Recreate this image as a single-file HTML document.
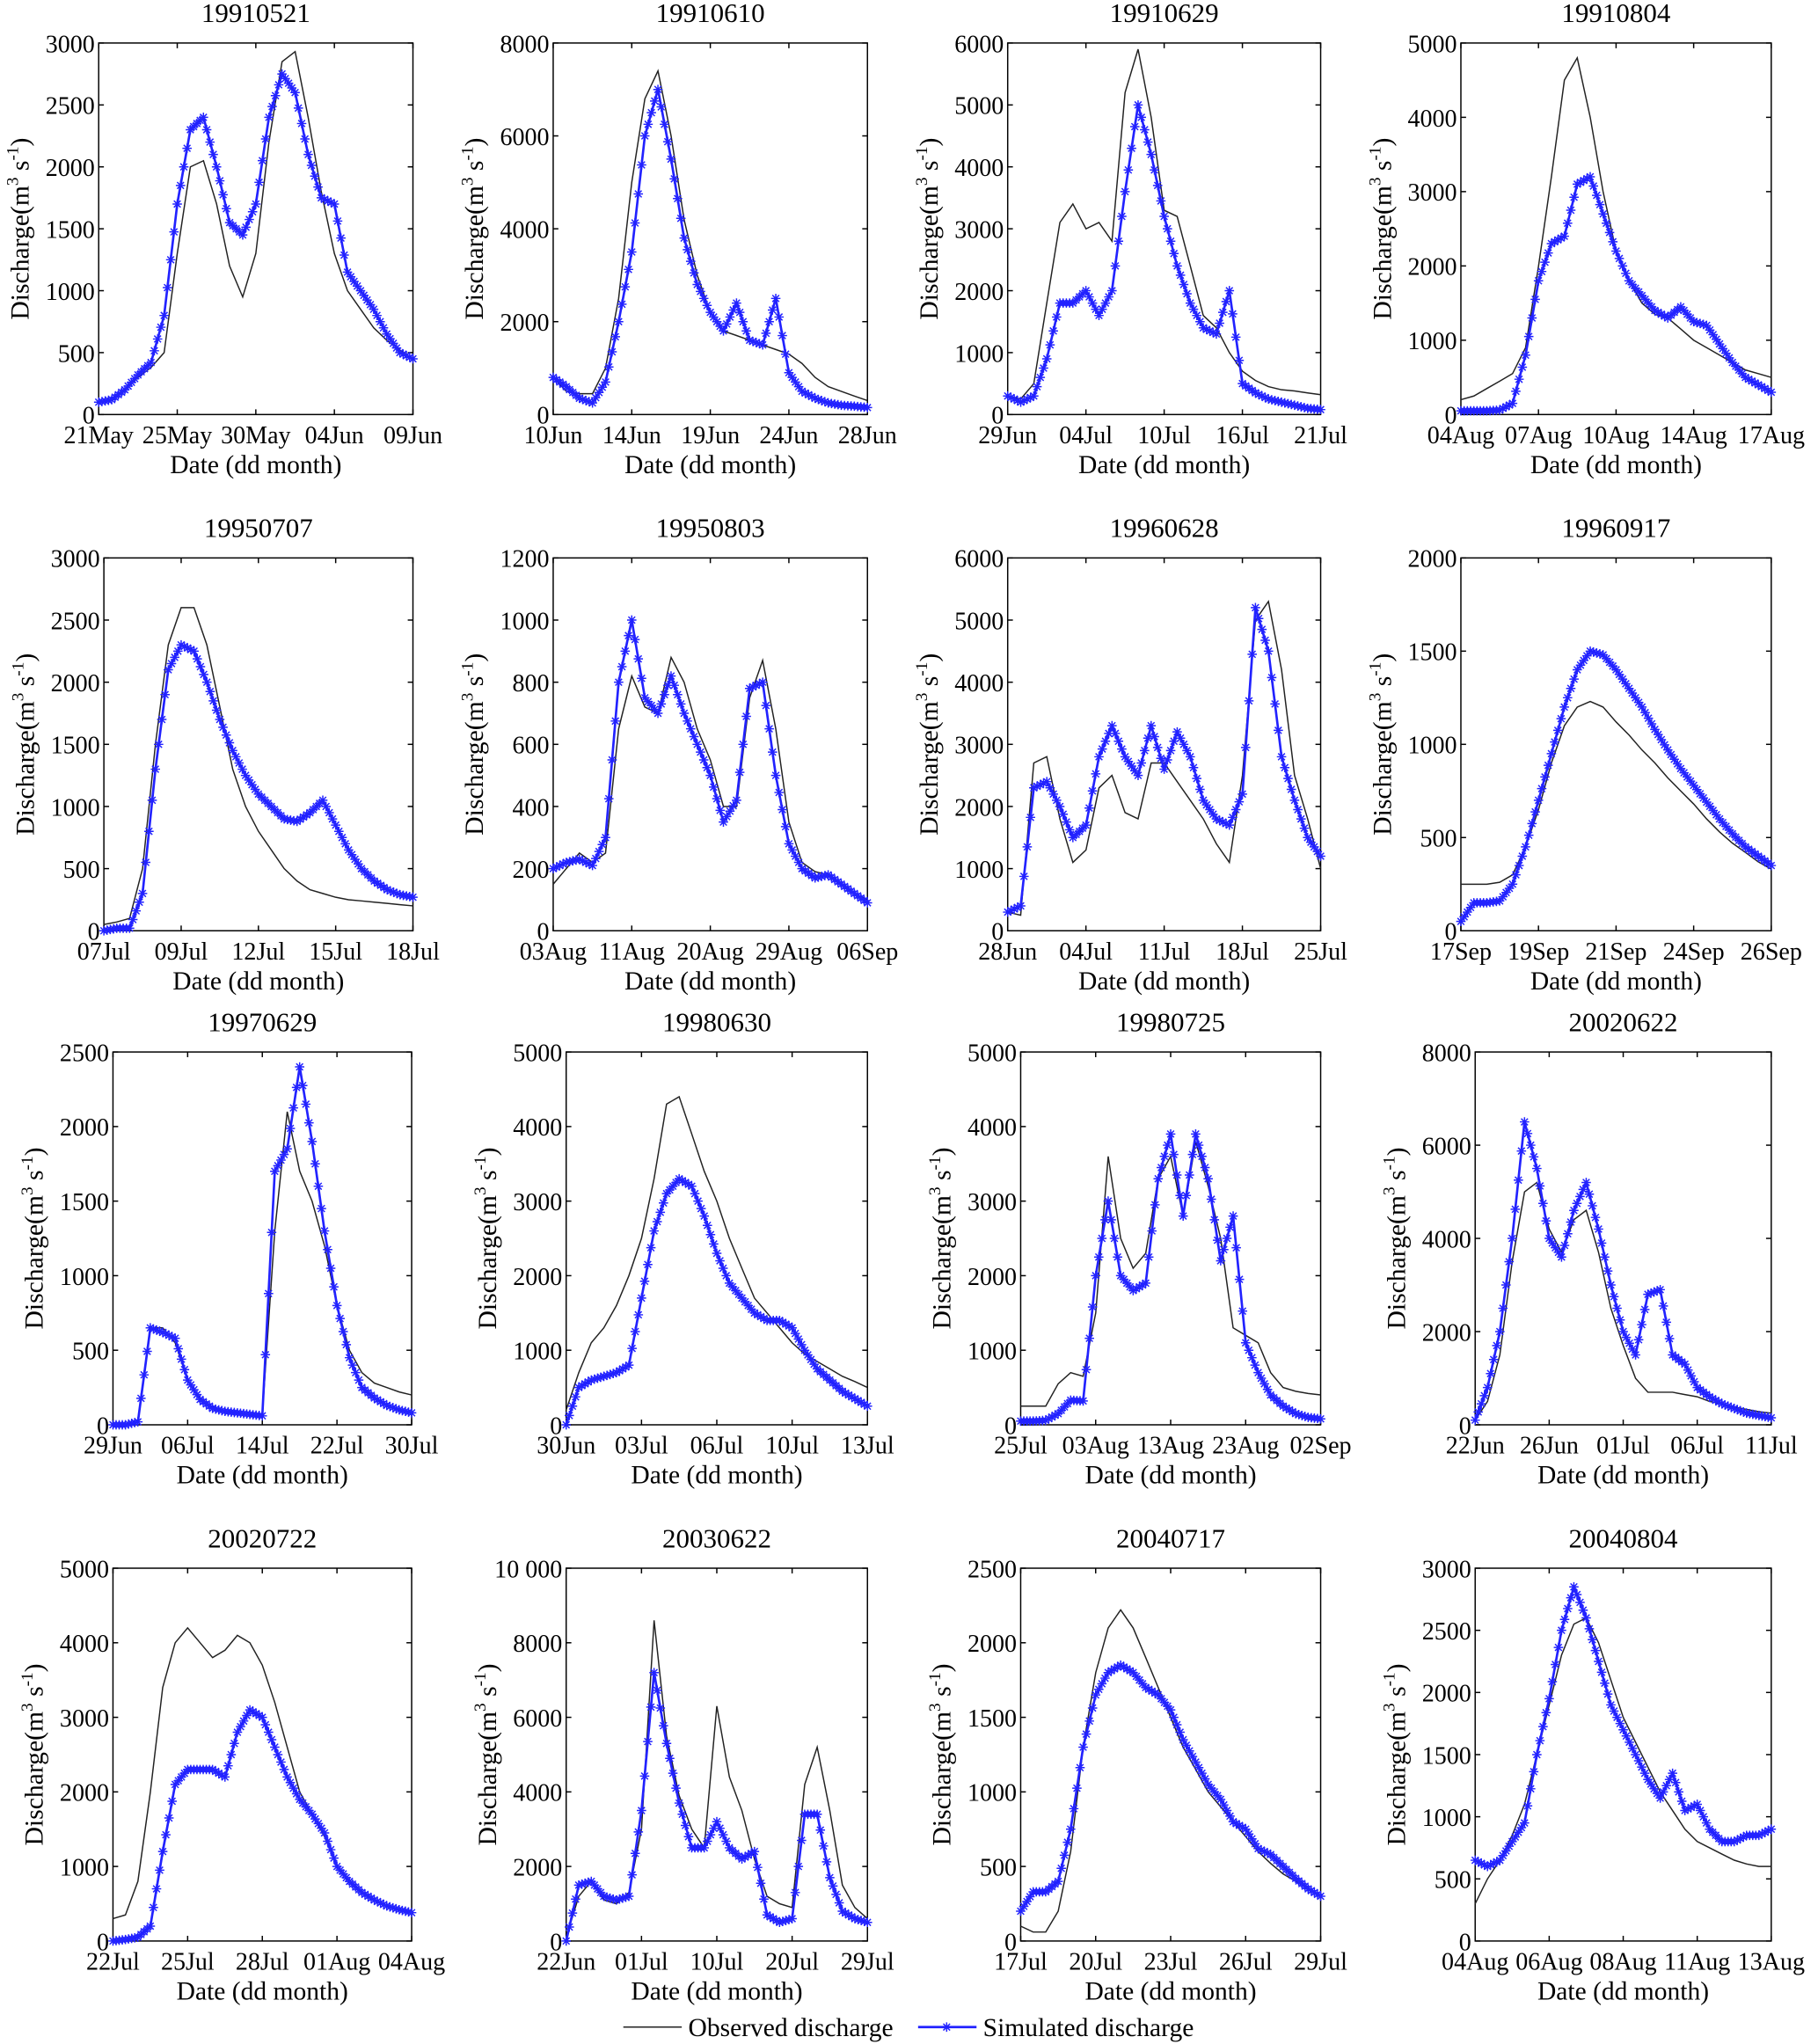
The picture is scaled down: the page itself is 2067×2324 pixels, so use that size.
<!DOCTYPE html>
<html><head><meta charset="utf-8"><style>
html,body{margin:0;padding:0;background:#fff}
svg{display:block}
text{font-family:"Liberation Serif",serif;fill:#000}
</style></head><body>
<svg id="chart" width="2067" height="2324" viewBox="0 0 1400 1568" preserveAspectRatio="none" xmlns="http://www.w3.org/2000/svg"></svg>
<script>
const titles=["19910521","19910610","19910629","19910804","19950707","19950803","19960628","19960917","19970629","19980630","19980725","20020622","20020722","20030622","20040717","20040804"];
const yMaxes=[3000,8000,6000,5000,3000,1200,6000,2000,2500,5000,5000,8000,5000,10000,2500,3000];
const ySteps=[500,2000,1000,1000,500,200,1000,500,500,1000,1000,2000,1000,2000,500,500];
const xLabels=[
["21May","25May","30May","04Jun","09Jun"],["10Jun","14Jun","19Jun","24Jun","28Jun"],["29Jun","04Jul","10Jul","16Jul","21Jul"],["04Aug","07Aug","10Aug","14Aug","17Aug"],
["07Jul","09Jul","12Jul","15Jul","18Jul"],["03Aug","11Aug","20Aug","29Aug","06Sep"],["28Jun","04Jul","11Jul","18Jul","25Jul"],["17Sep","19Sep","21Sep","24Sep","26Sep"],
["29Jun","06Jul","14Jul","22Jul","30Jul"],["30Jun","03Jul","06Jul","10Jul","13Jul"],["25Jul","03Aug","13Aug","23Aug","02Sep"],["22Jun","26Jun","01Jul","06Jul","11Jul"],
["22Jul","25Jul","28Jul","01Aug","04Aug"],["22Jun","01Jul","10Jul","20Jul","29Jul"],["17Jul","20Jul","23Jul","26Jul","29Jul"],["04Aug","06Aug","08Aug","11Aug","13Aug"]];
const obs1=[100,120,200,300,380,500,1300,2000,2050,1700,1200,950,1300,2200,2850,2930,2400,1800,1300,1000,850,700,600,520,450];
const sim1=[100,120,200,320,420,800,1700,2300,2400,2000,1550,1450,1700,2400,2750,2600,2100,1750,1700,1150,1000,850,650,500,450];
const obs2=[800,500,450,450,1000,2500,5000,6800,7400,6000,4200,3000,2200,1800,1700,1600,1500,1400,1300,1100,800,600,500,400,300];
const sim2=[800,600,350,250,700,2000,3500,6000,7000,5500,3800,2800,2200,1800,2400,1600,1500,2500,900,500,350,250,200,180,150];
const obs3=[300,250,500,1800,3100,3400,3000,3100,2800,5200,5900,4800,3300,3200,2400,1600,1400,1000,700,550,450,400,380,350,320];
const sim3=[300,200,300,900,1800,1800,2000,1600,2000,3600,5000,4200,3200,2400,1800,1400,1300,2000,500,350,250,200,150,100,80];
const obs4=[200,250,350,450,550,900,2000,3200,4500,4800,4000,3000,2200,1800,1500,1350,1300,1150,1000,900,800,700,600,550,500];
const sim4=[50,50,50,60,150,800,1800,2300,2400,3100,3200,2700,2200,1800,1600,1400,1300,1450,1250,1200,950,700,500,400,300];
const obs5=[50,70,100,500,1500,2300,2600,2600,2300,1800,1300,1000,800,650,500,400,330,300,270,250,240,230,220,210,200];
const sim5=[0,20,20,300,1300,2100,2300,2250,2000,1700,1450,1250,1100,1000,900,880,950,1050,850,650,500,400,330,290,270];
const obs6=[150,200,250,220,250,650,820,720,700,880,800,650,550,400,400,750,870,650,350,220,190,180,150,120,100];
const sim6=[200,220,230,210,300,800,1000,750,700,820,700,600,500,350,420,780,800,500,280,200,170,180,150,120,90];
const obs7=[300,250,2700,2800,1800,1100,1300,2300,2500,1900,1800,2700,2700,2400,2100,1800,1400,1100,2500,5000,5300,4200,2500,1800,1000];
const sim7=[300,400,2300,2400,2000,1500,1700,2800,3300,2800,2500,3300,2600,3200,2800,2100,1800,1700,2200,5200,4500,2800,2100,1500,1200];
const obs8=[250,250,250,260,300,450,650,900,1100,1200,1230,1200,1120,1050,970,900,820,750,680,600,530,470,420,370,330];
const sim8=[50,150,150,160,250,450,700,950,1200,1400,1500,1480,1400,1300,1200,1080,970,870,780,690,600,520,450,400,350];
const obs9=[0,0,20,650,650,550,300,180,120,90,80,70,70,1300,2100,1700,1500,1200,800,500,350,280,250,220,200];
const sim9=[0,0,20,650,620,580,300,170,110,90,80,70,60,1700,1850,2400,1900,1300,800,450,250,180,130,100,80];
const obs10=[200,700,1100,1300,1600,2000,2500,3300,4300,4400,3900,3400,3000,2500,2100,1700,1500,1300,1100,950,850,750,650,580,500];
const sim10=[0,500,600,650,700,800,1700,2600,3100,3300,3200,2800,2300,1900,1700,1500,1400,1400,1300,1000,750,600,450,350,250];
const obs11=[250,250,250,550,700,650,1500,3600,2500,2100,2300,3300,3600,2800,3800,3200,2500,1300,1200,1100,700,500,450,420,400];
const sim11=[50,50,60,150,330,320,2000,3000,2000,1800,1900,3300,3900,2800,3900,3300,2200,2800,1100,700,400,250,150,100,80];
const obs12=[100,500,1500,3500,5000,5200,4200,3700,4400,4600,3700,2500,1700,1000,700,700,700,650,600,500,450,380,330,280,250];
const sim12=[100,800,2000,4000,6500,5500,4000,3600,4600,5200,4200,3000,2000,1500,2800,2900,1500,1300,800,600,450,350,250,200,150];
const obs13=[300,350,800,2000,3400,4000,4200,4000,3800,3900,4100,4000,3700,3200,2600,2000,1700,1400,1000,800,650,550,480,420,400];
const sim13=[0,20,50,200,1200,2100,2300,2300,2300,2200,2800,3100,3000,2600,2200,1900,1700,1450,1000,800,650,550,470,420,380];
const obs14=[100,1200,1600,1100,1000,1300,3000,8600,5500,3900,3000,2500,6300,4400,3500,2200,1200,1000,900,4200,5200,3500,1500,900,600];
const sim14=[0,1500,1600,1200,1100,1200,3500,7200,5300,3700,2500,2500,3200,2500,2200,2400,700,500,600,3400,3400,1700,800,600,500];
const obs15=[100,60,60,200,600,1300,1800,2100,2220,2100,1900,1700,1500,1300,1150,1000,900,800,700,600,520,450,400,350,300];
const sim15=[200,330,330,400,750,1300,1650,1800,1850,1800,1700,1650,1550,1350,1200,1050,950,800,750,620,580,500,420,350,300];
const obs16=[300,500,650,850,1100,1500,1900,2300,2550,2600,2400,2100,1800,1600,1400,1200,1050,900,800,750,700,650,620,600,600];
const sim16=[650,600,650,800,950,1500,1950,2500,2850,2600,2250,1900,1700,1500,1300,1150,1350,1050,1100,900,800,800,850,850,900];
const obsAll=[obs1,obs2,obs3,obs4,obs5,obs6,obs7,obs8,obs9,obs10,obs11,obs12,obs13,obs14,obs15,obs16];
const simAll=[sim1,sim2,sim3,sim4,sim5,sim6,sim7,sim8,sim9,sim10,sim11,sim12,sim13,sim14,sim15,sim16];

const NS="http://www.w3.org/2000/svg";
const svg=document.getElementById('chart');
const rowsY=[[33,318],[428,714],[807,1093],[1203,1489]];
const colsX=[[[76,318],[426,668],[776,1017],[1125,1364]],[[80,318],[426,668],[776,1017],[1125,1364]],[[87,317],[436,668],[786,1017],[1136,1364]],[[87,317],[436,668],[786,1017],[1136,1364]]];
const BLUE="#2222ff";
function mk(tag,attrs,parent){const e=document.createElementNS(NS,tag);for(const k in attrs)e.setAttribute(k,attrs[k]);(parent||svg).appendChild(e);return e;}
function star(g,x,y){const r=3.6,d=2.6;
  mk('path',{d:`M${x-r},${y}H${x+r}M${x},${y-r}V${y+r}M${x-d},${y-d}L${x+d},${y+d}M${x-d},${y+d}L${x+d},${y-d}`,stroke:BLUE,'stroke-width':1,fill:'none'},g);}

for(let p=0;p<16;p++){
  const r=Math.floor(p/4),c=p%4;
  const [x0,x1]=colsX[r][c],[y0,y1]=rowsY[r];
  const g=mk('g',{});
  
  
  const ymax=yMaxes[p],step=ySteps[p];
  const ys=v=>y1-(v/ymax)*(y1-y0);
  const n=obsAll[p].length;
  const xs=i=>x0+i*(x1-x0)/(n-1);
  const box=mk('rect',{x:x0,y:y0,width:x1-x0,height:y1-y0,fill:'none',stroke:'#000','stroke-width':1},g);
  
  
  const t=mk('text',{x:(x0+x1)/2,y:y0-16,'text-anchor':'middle','font-size':21},g);
  t.textContent=titles[p];
  
  
  for(let v=0;v<=ymax+0.1;v+=step){
    const y=ys(v);
    mk('line',{x1:x0,x2:x0+4,y1:y,y2:y,stroke:'#000'},g);
    mk('line',{x1:x1,x2:x1-4,y1:y,y2:y,stroke:'#000'},g);
    const tl=mk('text',{x:x0-3,y:y+7,'text-anchor':'end','font-size':19},g);
    tl.textContent=v>=10000?'10 000':String(v);
    
    
  }
  const labs=xLabels[p];
  for(let i=0;i<labs.length;i++){
    const x=x0+i*(x1-x0)/(labs.length-1);
    mk('line',{x1:x,x2:x,y1:y1,y2:y1-4,stroke:'#000'},g);
    mk('line',{x1:x,x2:x,y1:y0,y2:y0+4,stroke:'#000'},g);
    const xl=mk('text',{x:x,y:y1+22,'text-anchor':'middle','font-size':19},g);
    xl.textContent=labs[i];
    
    
  }
  const xt=mk('text',{x:(x0+x1)/2,y:y1+45,'text-anchor':'middle','font-size':20},g);
  xt.textContent='Date (dd month)';
  
  
  const yl=mk('text',{x:0,y:0,'text-anchor':'middle','font-size':20,transform:`translate(${x0-54},${(y0+y1)/2}) rotate(-90)`},g);
  yl.innerHTML='Discharge(m<tspan font-size="13" dy="-8">3</tspan><tspan dy="8"> s</tspan><tspan font-size="13" dy="-8">-1</tspan><tspan dy="8">)</tspan>';
  
  
  const op=obsAll[p].map((v,i)=>`${xs(i).toFixed(1)},${ys(v).toFixed(1)}`).join(' ');
  const ol=mk('polyline',{points:op,fill:'none',stroke:'#222','stroke-width':1},g);
  
  
  const sp=simAll[p].map((v,i)=>`${xs(i).toFixed(1)},${ys(v).toFixed(1)}`).join(' ');
  const sl=mk('polyline',{points:sp,fill:'none',stroke:BLUE,'stroke-width':1.8},g);
  
  
  const mg=mk('g',{},g);
  
  
  const sim=simAll[p];
  for(let i=0;i<n;i++){
    star(mg,xs(i),ys(sim[i]));
    if(i<n-1){
      for(let k=1;k<4;k++){const f=k/4;
        star(mg,xs(i)+(xs(i+1)-xs(i))*f,ys(sim[i])+(ys(sim[i+1])-ys(sim[i]))*f);}
    }
  }
}
const lg=mk('g',{});


mk('line',{x1:480,x2:525,y1:1555,y2:1555,stroke:'#222'},lg);
const lt1=mk('text',{x:530,y:1562,'font-size':20},lg);
lt1.textContent='Observed discharge';


mk('line',{x1:707,x2:752,y1:1555,y2:1555,stroke:BLUE,'stroke-width':1.8},lg);
star(lg,729,1555);
const lt2=mk('text',{x:757,y:1562,'font-size':20},lg);
lt2.textContent='Simulated discharge';


</script>
</body></html>
